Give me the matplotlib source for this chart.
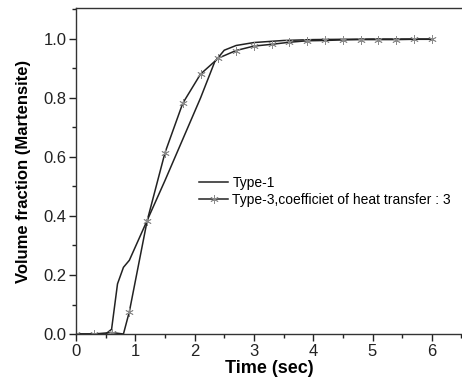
import matplotlib
matplotlib.use("Agg")
import matplotlib.pyplot as plt
from matplotlib.ticker import MultipleLocator

plt.rcParams['font.family'] = ['Liberation Sans', 'DejaVu Sans']

# Type-1 series
t1_time = [0.0, 0.5, 0.6, 0.7, 0.8, 0.9, 1.2, 1.5, 1.8, 2.1, 2.34, 2.5, 2.7, 3.0, 3.5, 4.0, 5.0, 6.0]
t1_frac = [0.0, 0.0, 0.016, 0.17, 0.226, 0.25, 0.385, 0.52, 0.66, 0.80, 0.923, 0.962, 0.978, 0.988, 0.995, 0.998, 1.0, 1.0]

# Type-3 series (coefficient of heat transfer 3)
t3_time = [0.0, 0.3, 0.6, 0.8, 0.9, 1.2, 1.5, 1.8, 2.1, 2.4, 2.7, 3.0, 3.3, 3.6, 3.9, 4.2, 4.5, 4.8, 5.1, 5.4, 5.7, 6.0]
t3_frac = [0.0, 0.0, 0.005, 0.0, 0.076, 0.384, 0.614, 0.782, 0.881, 0.935, 0.961, 0.976, 0.982, 0.989, 0.994, 0.995, 0.997, 0.998, 0.998, 0.998, 0.999, 0.999]
t3_marker_idx = [i for i in range(len(t3_time)) if i != 3]

labels = ["Type-1", "Type-3,coefficiet of heat transfer : 3"]

fig = plt.figure(figsize=(4.62, 3.86), dpi=100)
ax = fig.add_axes([76/462, 1-334/386, 1-76/462, (334-8)/386])

ax.plot(t1_time, t1_frac, color='#222222', lw=1.1, label=labels[0])
ax.plot(t3_time, t3_frac, color='#222222', lw=1.1, marker=(6, 2, 0), markevery=t3_marker_idx,
        markersize=6, markeredgecolor='#8a8a8a', markeredgewidth=0.6, label=labels[1])

ax.set_xlim(0, (462-76)/59.3)
ax.set_ylim(0, (334-8)/295)
ax.xaxis.set_major_locator(MultipleLocator(1))
ax.xaxis.set_minor_locator(MultipleLocator(0.5))
ax.yaxis.set_major_locator(MultipleLocator(0.2))
ax.yaxis.set_minor_locator(MultipleLocator(0.1))
ax.yaxis.set_major_formatter(matplotlib.ticker.FormatStrFormatter('%.1f'))
ax.tick_params(which='major', direction='out', length=5, width=1, labelsize=12, colors='#222222', pad=2)
ax.tick_params(which='minor', direction='out', length=3, width=1, colors='#222222')
ax.tick_params(top=False, right=False)
ax.spines['right'].set_visible(False)
for s in ['left', 'bottom', 'top']:
    ax.spines[s].set_color('#333333')
    ax.spines[s].set_linewidth(1.0)

ax.set_xlabel('Time (sec)', fontsize=13, fontweight='bold', labelpad=1)
ax.set_ylabel('Volume fraction (Martensite)', fontsize=12, fontweight='bold', labelpad=9)

leg = ax.legend(loc='upper left', bbox_to_anchor=(199/462, 1-176/386), bbox_transform=fig.transFigure,
                frameon=False, fontsize=10, handlelength=2.1, handletextpad=0.3, labelspacing=0.2,
                borderpad=0, borderaxespad=0)

fig.savefig('out.png', dpi=100)
